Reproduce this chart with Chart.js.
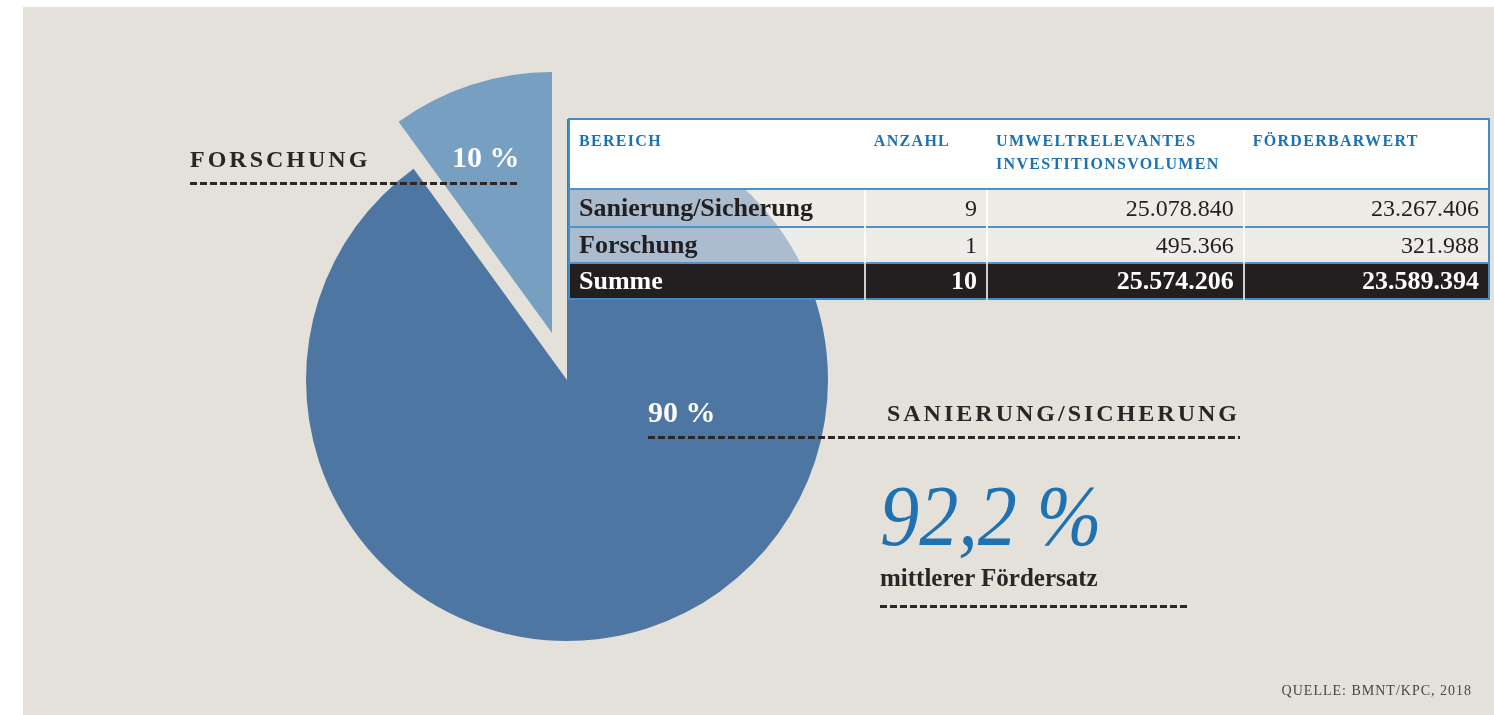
<!DOCTYPE html>
<html>
<head>
<meta charset="utf-8">
<script src="https://cdn.jsdelivr.net/npm/chart.js@4/dist/chart.umd.min.js"></script>
<style>
  html, body { margin: 0; padding: 0; background: #fff; }
  #stage { position: relative; width: 1494px; height: 715px; overflow: hidden; font-family: "Liberation Serif", "DejaVu Serif", serif; }
  #bg { position: absolute; left: 23px; top: 7px; right: 0; bottom: 0; background: #e4e1da; }
  canvas { position: absolute; left: 0; top: 0; }
  .lbl { position: absolute; white-space: nowrap; color: #2a2526; font-weight: bold; }
  .caps { font-size: 24px; letter-spacing: 3px; }
  .pct { font-size: 30px; color: #fff; }
  .dash { position: absolute; height: 3px; background: repeating-linear-gradient(to right, #2b2627 0 7px, transparent 7px 10px); }
  #big { position: absolute; left: 880px; top: 473px; font-size: 86px; font-style: italic; color: #1f72b2; white-space: nowrap; transform: scaleX(0.91); transform-origin: left top; line-height: 1; }
  #src { position: absolute; right: 22px; top: 683px; font-size: 14px; letter-spacing: 1px; color: #4a4546; }
  table { position: absolute; left: 568px; top: 118px; width: 922px; border-collapse: collapse; border: 2px solid #3d8dc6; }
  th { background: #fff; color: #1a71b3; font-size: 16px; letter-spacing: 1.3px; text-align: left; vertical-align: top; padding: 9px 9px 0 9px; height: 59px; line-height: 23px; font-weight: bold; }
  td { height: 34px; padding: 0 9px; font-size: 24px; color: #231f20; background: rgba(246,245,242,0.55); border-top: 2px solid #4b93c8; border-left: 2px solid rgba(255,255,255,0.8); }
  tr.first td { height: 36px; }
  td.name { font-weight: bold; font-size: 26px; border-left: none; }
  td.num { text-align: right; }
  tr.sum td { background: #231f20; color: #fff; font-weight: bold; font-size: 26px; border-left-color: #cfcfcf; }
  tr.sum td.name { border-left: none; }
</style>
</head>
<body>
<div id="stage">
  <div id="bg"></div>
  <canvas id="pieMain" width="1494" height="715"></canvas>
  <canvas id="pieOut" width="1494" height="715"></canvas>

  <div class="lbl caps" style="left:190px; top:146px;">FORSCHUNG</div>
  <div class="dash" style="left:190px; top:182px; width:330px;"></div>
  <div class="lbl pct" style="left:452px; top:140px;">10 %</div>

  <div class="lbl pct" style="left:648px; top:395px;">90 %</div>
  <div class="lbl caps" style="right:254px; top:400px;">SANIERUNG/SICHERUNG</div>
  <div class="dash" style="left:648px; top:436px; width:592px;"></div>

  <div id="big">92,2 %</div>
  <div class="lbl" style="left:880px; top:564px; font-size:25px;">mittlerer Fördersatz</div>
  <div class="dash" style="left:880px; top:605px; width:308px;"></div>

  <div id="src">QUELLE: BMNT/KPC, 2018</div>

  <table id="tbl"></table>
</div>

<script>
// pie data
const categories = ['Sanierung/Sicherung', 'Forschung'];
const shares = [90, 10];
const sliceColors = ['#4e76a2', '#779fc1'];

// table data
const headers = ['BEREICH', 'ANZAHL', 'UMWELTRELEVANTES<br>INVESTITIONSVOLUMEN', 'FÖRDERBARWERT'];
const anzahl = [9, 1];
const volumen = ['25.078.840', '495.366'];
const foerder = ['23.267.406', '321.988'];
const summe = ['Summe', 10, '25.574.206', '23.589.394'];

// build table
const tbl = document.getElementById('tbl');
const colWidths = [296, 123, 257, 246];
let html = '<tr>' + headers.map((h, i) => '<th style="width:' + (colWidths[i] - 18) + 'px">' + h + '</th>').join('') + '</tr>';
categories.forEach((c, i) => {
    html += '<tr' + (i === 0 ? ' class="first"' : '') + '><td class="name">' + c + '</td><td class="num">' + anzahl[i] +
        '</td><td class="num">' + volumen[i] + '</td><td class="num">' + foerder[i] + '</td></tr>';
});
html += '<tr class="sum"><td class="name">' + summe[0] + '</td>' +
    summe.slice(1).map(v => '<td class="num">' + v + '</td>').join('') + '</tr>';
tbl.innerHTML = html;

// two layers: the big slice, and the pulled out small slice
function makePie(id, colors) {
    return new Chart(document.getElementById(id).getContext('2d'), {
        type: 'pie',
        data: {
            labels: categories,
            datasets: [{
                data: shares,
                backgroundColor: colors,
                borderWidth: 0
            }]
        },
        options: {
            responsive: false,
            animation: false,
            radius: 261,
            layout: { padding: { left: 0, right: 360, top: 45, bottom: 0 } },
            plugins: {
                legend: { display: false },
                tooltip: { enabled: false }
            }
        }
    });
}

makePie('pieMain', [sliceColors[0], 'rgba(0,0,0,0)']);
makePie('pieOut', ['rgba(0,0,0,0)', sliceColors[1]]);

// move the small slice out along its middle angle
const total = shares.reduce((a, b) => a + b, 0);
const startShare = shares[0] / total;
const midAngle = -Math.PI / 2 + 2 * Math.PI * (startShare + shares[1] / total / 2);
const explode = 49;
const out = document.getElementById('pieOut');
out.style.left = (Math.cos(midAngle) * explode) + 'px';
out.style.top = (Math.sin(midAngle) * explode) + 'px';
</script>
</body>
</html>
